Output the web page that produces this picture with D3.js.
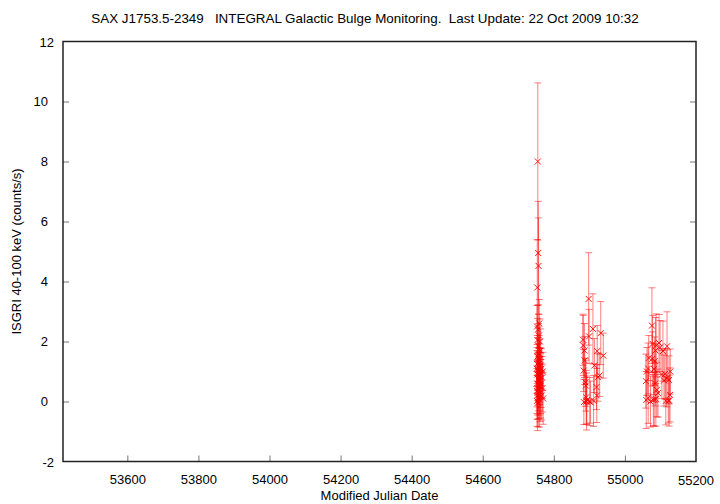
<!DOCTYPE html>
<html><head><meta charset="utf-8">
<script src="https://cdn.jsdelivr.net/npm/d3@7"></script>
<style>body{margin:0;background:#fff}svg{display:block}text{font-family:"Liberation Sans",Arial,sans-serif;font-size:13px;fill:#000}</style>
</head><body><svg id="c" width="720" height="504"></svg>
<script>
const title = "SAX J1753.5-2349   INTEGRAL Galactic Bulge Monitoring.  Last Update: 22 Oct 2009 10:32";
const xLabel = "Modified Julian Date";
const yLabel = "ISGRI 40-100 keV (counts/s)";
const xTicks = [53600, 53800, 54000, 54200, 54400, 54600, 54800, 55000, 55200];
const yTicks = [-2, 0, 2, 4, 6, 8, 10, 12];

const mjd = [
 54752.3,54752.4,54752.5,54752.6,54752.7,54753.2,54753.3,54753.4,54753.5,54754.1,54754.2,54754.3,54754.4,
 54755.0,54755.1,54755.2,54755.3,54756.0,54756.1,54756.2,54756.3,54757.0,54757.1,54757.2,54757.3,
 54758.0,54758.1,54758.2,54758.3,54759.0,54759.1,54759.2,54760.0,54760.1,54760.2,54761.0,54761.1,54761.2,
 54762.0,54762.1,54763.0,54763.1,54764.0,54765.0,54766.0,54767.0,54768.0,54769.0,54770.0,
 54882,54882.5,54884,54884.5,54886,54887,54889,54890,54891,54892,54893,54898,54899,54901,54903,
 54910,54912,54914,54920,54921,54922,54924,54929,54932,54939,
 55059,55060,55062,55065,55065.5,55067,55072,55076,55077,55078,55080,55082,55082.5,55084,55085,
 55086,55087,55088,55090,55093,55096,55099,55104,55107,55110,55113,55115,55118,55118.5,55122,
 55124,55124.5,55127,55127.5
];
const rate = [
 0.35,1.10,0.02,2.50,0.60,1.25,0.20,3.80,0.90,2.05,0.45,1.50,-0.05,
 8.00,1.05,0.30,2.40,4.95,0.75,1.30,0.10,4.52,1.85,0.55,1.00,
 2.20,0.25,1.60,0.85,2.60,0.40,1.15,0.05,1.40,0.70,2.00,0.15,1.20,
 0.50,0.95,1.70,0.30,0.60,1.10,0.20,0.80,0.45,1.00,0.10,
 2.06,1.87,1.03,-0.02,1.70,1.37,0.64,0.53,0.14,0.00,0.05,3.42,2.17,0.00,-0.02,
 2.42,0.02,1.20,0.48,0.20,1.68,0.81,0.87,2.28,1.53,
 0.68,0.05,1.00,1.10,0.12,1.45,0.00,2.53,1.42,1.92,0.05,1.08,0.07,1.35,0.60,
 1.70,0.08,1.87,0.39,0.28,1.95,1.80,0.90,1.68,0.70,0.92,0.02,0.77,1.84,0.03,
 0.72,0.03,0.22,1.00
];
const err = [
 0.75,0.60,0.85,0.70,0.78,0.65,0.80,1.60,0.66,0.72,0.90,0.62,0.92,
 2.62,0.60,0.88,0.80,1.72,0.70,0.62,0.95,1.60,0.75,0.86,0.64,
 0.70,0.82,0.60,0.78,0.80,0.85,0.62,0.90,0.66,0.80,0.75,0.82,0.58,
 0.90,0.68,0.72,0.85,0.80,0.66,0.82,0.70,0.80,0.64,0.86,
 0.85,1.00,0.70,0.75,0.90,0.80,0.80,0.85,0.90,0.95,0.80,1.54,0.90,0.80,0.70,
 1.17,0.85,0.90,0.75,0.90,0.85,0.80,0.70,1.05,0.75,
 0.90,0.95,0.80,0.85,0.85,0.75,0.85,1.26,0.90,0.95,0.85,0.85,0.90,0.80,0.75,
 1.10,0.90,1.05,0.90,0.80,0.95,0.90,0.80,1.00,0.85,0.85,0.80,0.95,1.15,0.75,
 0.80,0.85,0.90,0.75
];

const W = 720, H = 504;
const m = {left: 63, right: 696, top: 41.5, bottom: 461.5};
const svg = d3.select("#c");
const x = d3.scaleLinear().domain([53419, 55200]).range([m.left, m.right]);
const y = d3.scaleLinear().domain([-2, 12]).range([m.bottom, m.top]);

// title
svg.append("text").attr("x", 365).attr("y", 23).attr("text-anchor", "middle")
  .style("white-space", "pre").style("font-size", "13.4px").text(title);

// ticks (inside) via d3 axes
const gx = svg.append("g").attr("transform", `translate(0,${m.bottom})`)
  .call(d3.axisBottom(x).tickValues(xTicks.slice(0, -1)).tickSize(-6).tickPadding(13).tickFormat(d3.format("d")));
const gy = svg.append("g").attr("transform", `translate(${m.left},0)`)
  .call(d3.axisLeft(y).tickValues(yTicks.slice(1, -1)).tickSize(-6).tickPadding(15).tickFormat(d3.format("d")));
const gr = svg.append("g").attr("transform", `translate(${m.right},0)`)
  .call(d3.axisRight(y).tickValues(yTicks.slice(1, -1)).tickSize(-6).tickFormat(""));
[gx, gy, gr].forEach(g => {
  g.select(".domain").remove();
  g.selectAll(".tick line").attr("stroke", "#777").attr("stroke-width", 1);
  g.selectAll(".tick text").style("font-family", '"Liberation Sans",Arial,sans-serif').style("font-size", "13px").attr("fill", "#000");
});
// end labels (at frame corners)
svg.append("text").attr("x", x(55200)).attr("y", m.bottom + 23).attr("text-anchor", "middle").text("55200");
svg.append("text").attr("x", m.left - 9).attr("y", y(12) + 5).attr("text-anchor", "end").text("12");
svg.append("text").attr("x", m.left - 9).attr("y", y(-2) + 5).attr("text-anchor", "end").text("-2");

// frame
svg.append("rect").attr("x", m.left).attr("y", m.top).attr("width", m.right - m.left).attr("height", m.bottom - m.top)
  .attr("fill", "none").attr("stroke", "#222").attr("stroke-width", 1.5);

// axis labels
svg.append("text").attr("x", (m.left + m.right) / 2).attr("y", 500).attr("text-anchor", "middle").text(xLabel);
svg.append("text").attr("transform", `translate(21,${(m.top + m.bottom) / 2}) rotate(-90)`)
  .attr("text-anchor", "middle").text(yLabel);

// data
const pts = mjd.map((d, i) => ({t: d, v: rate[i], e: err[i]}));
const g = svg.append("g").attr("stroke", "#ff0000").attr("fill", "none").attr("stroke-width", 1);
const eb = g.selectAll("g.eb").data(pts).join("g").attr("class", "eb").attr("stroke-opacity", 0.5);
eb.append("line").attr("x1", d => x(d.t)).attr("x2", d => x(d.t)).attr("y1", d => y(d.v - d.e)).attr("y2", d => y(d.v + d.e));
eb.append("line").attr("x1", d => x(d.t) - 3.5).attr("x2", d => x(d.t) + 3.5).attr("y1", d => y(d.v + d.e)).attr("y2", d => y(d.v + d.e));
eb.append("line").attr("x1", d => x(d.t) - 3.5).attr("x2", d => x(d.t) + 3.5).attr("y1", d => y(d.v - d.e)).attr("y2", d => y(d.v - d.e));
const mk = g.selectAll("path.mk").data(pts).join("path").attr("class", "mk").attr("stroke-opacity", 0.9)
  .attr("d", d => { const cx = x(d.t), cy = y(d.v), s = 3; return `M${cx-s},${cy-s}L${cx+s},${cy+s}M${cx-s},${cy+s}L${cx+s},${cy-s}`; });
</script></body></html>
